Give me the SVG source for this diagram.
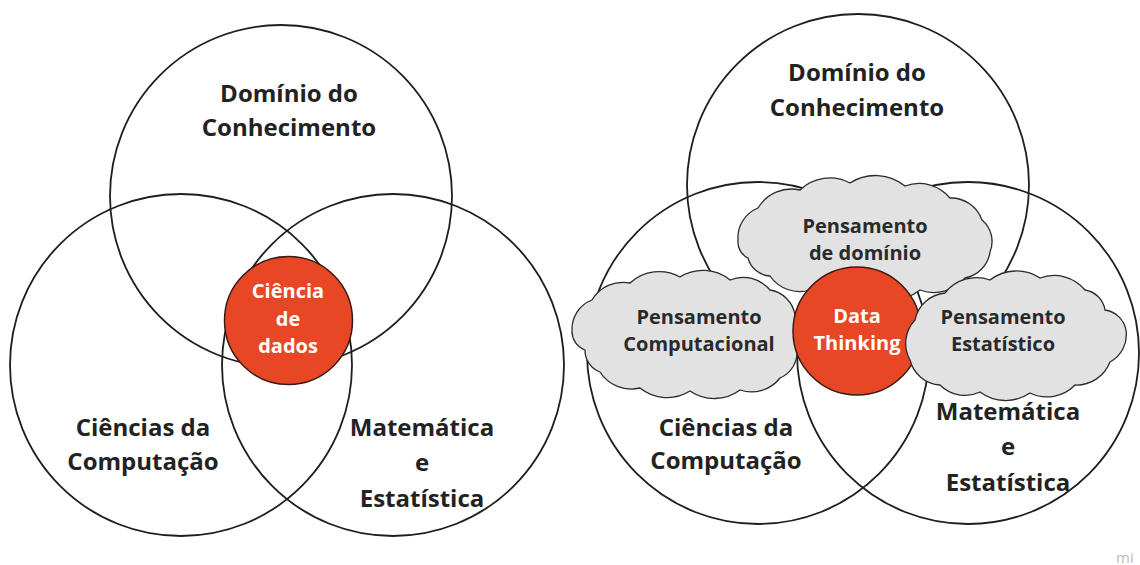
<svg xmlns="http://www.w3.org/2000/svg" width="1140" height="565" viewBox="0 0 1140 565">
<style>
.ring{fill:none;stroke:#1e1e1e;stroke-width:1.8}
.core{fill:#e84726;stroke:#3a1a12;stroke-width:1.5}
.cloud{fill:#e2e2e2;stroke:#2a2a2a;stroke-width:1.3}
.big{font-family:"Open Sans","Noto Sans","Liberation Sans",sans-serif;font-weight:700;font-size:24px;fill:#222;text-anchor:middle}
.core-t{font-family:"Open Sans","Noto Sans","Liberation Sans",sans-serif;font-weight:700;font-size:20px;fill:#fff;text-anchor:middle}
.cl-t{font-family:"Open Sans","Noto Sans","Liberation Sans",sans-serif;font-weight:700;font-size:20px;fill:#2a2a2a;text-anchor:middle}
.wm{font-family:"Open Sans","Noto Sans","Liberation Sans",sans-serif;font-size:15px;fill:#bdbdbd}
</style>
<rect width="1140" height="565" fill="#fff"/>

<!-- Left diagram -->
<g id="left-dominio">
<circle class="ring" cx="281" cy="196" r="171"/>
<text class="big" x="289" y="102">Domínio do</text>
<text class="big" x="289" y="136">Conhecimento</text>
</g>
<g id="left-computacao">
<circle class="ring" cx="181" cy="365" r="171"/>
<text class="big" x="143" y="436">Ciências da</text>
<text class="big" x="143" y="470">Computação</text>
</g>
<g id="left-matematica">
<circle class="ring" cx="393" cy="365" r="171"/>
<text class="big" x="422" y="436">Matemática</text>
<text class="big" x="422" y="471">e</text>
<text class="big" x="422" y="507">Estatística</text>
</g>
<g id="left-ciencia-dados">
<circle class="core" cx="288.5" cy="320.5" r="64"/>
<text class="core-t" x="288" y="298">Ciência</text>
<text class="core-t" x="288" y="326">de</text>
<text class="core-t" x="288" y="353">dados</text>
</g>

<!-- Right diagram -->
<g id="right-dominio">
<circle class="ring" cx="858" cy="185" r="171"/>
<text class="big" x="857" y="81">Domínio do</text>
<text class="big" x="857" y="116">Conhecimento</text>
</g>
<g id="right-computacao">
<circle class="ring" cx="758" cy="353" r="171"/>
<text class="big" x="726" y="436">Ciências da</text>
<text class="big" x="726" y="469">Computação</text>
</g>
<g id="right-matematica">
<circle class="ring" cx="968" cy="353" r="171"/>
<text class="big" x="1008" y="420">Matemática</text>
<text class="big" x="1008" y="455">e</text>
<text class="big" x="1008" y="491">Estatística</text>
</g>
<g id="cloud-dominio">
<path class="cloud" d="M738,240 A32,32 0 0 1 758,208 A39,39 0 0 1 800,190 A43,43 0 0 1 850,183 A47,47 0 0 1 905,186 A40,40 0 0 1 950,198 A33,33 0 0 1 982,220 A28,28 0 0 1 990,252 A31,31 0 0 1 965,278 A40,40 0 0 1 920,290 A47,47 0 0 1 865,292 A47,47 0 0 1 810,290 A36,36 0 0 1 770,276 A24,24 0 0 1 748,258 A18,18 0 0 1 738,240 Z"/>
<text class="cl-t" x="865" y="233">Pensamento</text>
<text class="cl-t" x="865" y="260">de domínio</text>
</g>
<g id="cloud-computacional">
<path class="cloud" d="M572,330 A31,31 0 0 1 592,300 A36,36 0 0 1 630,283 A43,43 0 0 1 680,277 A43,43 0 0 1 730,280 A35,35 0 0 1 770,290 A30,30 0 0 1 795,315 A30,30 0 0 1 797,350 A28,28 0 0 1 780,378 A36,36 0 0 1 740,390 A43,43 0 0 1 690,391 A43,43 0 0 1 640,388 A37,37 0 0 1 600,372 A23,23 0 0 1 585,350 A20,20 0 0 1 572,330 Z"/>
<text class="cl-t" x="699" y="324">Pensamento</text>
<text class="cl-t" x="699" y="351">Computacional</text>
</g>
<g id="data-thinking">
<circle class="core" cx="857" cy="331" r="64"/>
<text class="core-t" x="857" y="323">Data</text>
<text class="core-t" x="857" y="350">Thinking</text>
</g>
<g id="cloud-estatistico">
<path class="cloud" d="M910,360 A34,34 0 0 1 915,320 A34,34 0 0 1 945,293 A40,40 0 0 1 990,280 A43,43 0 0 1 1040,278 A40,40 0 0 1 1085,290 A24,24 0 0 1 1105,310 A25,25 0 0 1 1126,330 A31,31 0 0 1 1110,362 A36,36 0 0 1 1075,385 A39,39 0 0 1 1030,393 A43,43 0 0 1 980,392 A35,35 0 0 1 940,385 A33,33 0 0 1 910,360 Z"/>
<text class="cl-t" x="1003" y="324">Pensamento</text>
<text class="cl-t" x="1003" y="351">Estatístico</text>
</g>
<text class="wm" x="1116" y="563">mi</text>
</svg>
